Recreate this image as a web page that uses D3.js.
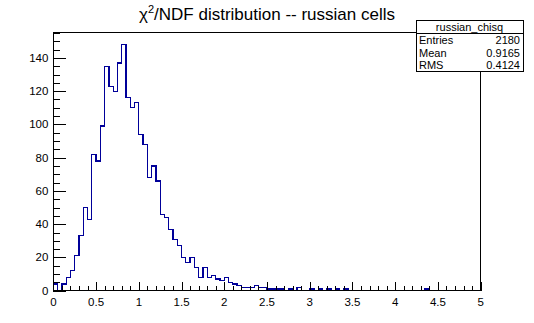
<!DOCTYPE html>
<html>
<head>
<meta charset="utf-8">
<script src="https://cdn.jsdelivr.net/npm/d3@7"></script>
<style>
  html, body { margin: 0; padding: 0; background: #fff; }
  svg { display: block; }
  text { font-family: "Liberation Sans", Arial, Helvetica, sans-serif; }
</style>
</head>
<body>
<div id="chart"></div>
<script>
// ---- data ----
const xMin = 0, xMax = 5, binWidth = 0.05;
const counts = [
  4, 0, 4, 8, 12, 21, 33, 50, 43, 82,
  78, 99, 135, 123, 120, 137, 148, 116, 110, 113,
  94, 88, 68, 75, 66, 46, 44, 37, 31, 27,
  20, 17, 20, 14, 8, 14, 8, 9, 7, 6,
  8, 5, 4, 3, 2, 2, 2, 3, 2, 2,
  1, 1, 1, 1, 0, 1, 0, 2, 0, 0,
  1, 0, 1, 0, 1, 0, 1, 0, 1, 0,
  0, 0, 0, 0, 0, 0, 0, 0, 0, 0,
  0, 0, 0, 0, 0, 0, 0, 1, 0, 0,
  0, 0, 0, 0, 0, 0, 0, 0, 0, 0
];
const xTickValues = [0, 0.5, 1, 1.5, 2, 2.5, 3, 3.5, 4, 4.5, 5];
const xTickLabels = ["0", "0.5", "1", "1.5", "2", "2.5", "3", "3.5", "4", "4.5", "5"];
const yTickValues = [0, 20, 40, 60, 80, 100, 120, 140];
const statsTitle = "russian_chisq";
const statsNames = ["Entries", "Mean", "RMS"];
const statsValues = ["2180", "0.9165", "0.4124"];

// ---- layout ----
const W = 534, H = 323;
const frame = { left: 53.4, right: 480.6, top: 32.3, bottom: 290.7 };
const yMax = d3.max(counts) * 1.05;

const svg = d3.select("#chart").append("svg")
  .attr("width", W).attr("height", H);

const x = d3.scaleLinear().domain([xMin, xMax]).range([frame.left, frame.right]);
const y = d3.scaleLinear().domain([0, yMax]).range([frame.bottom, frame.top]);

// histogram outline
const pts = [[xMin, 0]];
counts.forEach((c, i) => {
  const lo = xMin + i * binWidth, hi = lo + binWidth;
  pts.push([lo, c]); pts.push([hi, c]);
});
pts.push([xMax, 0]);
const line = d3.line().x(d => x(d[0])).y(d => y(d[1]));
svg.append("path")
  .attr("d", line(pts))
  .attr("fill", "none")
  .attr("stroke", "#000099")
  .attr("stroke-width", 1.3)
  .attr("shape-rendering", "crispEdges");

// frame
svg.append("rect")
  .attr("x", frame.left).attr("y", frame.top)
  .attr("width", frame.right - frame.left).attr("height", frame.bottom - frame.top)
  .attr("fill", "none").attr("stroke", "#000").attr("stroke-width", 1)
  .attr("shape-rendering", "crispEdges");

// x axis (ticks inside, pointing up)
const xMinor = d3.range(0, 51).map(i => i * 0.1);
const xAxisG = svg.append("g").attr("transform", `translate(0,${frame.bottom})`);
xAxisG.call(d3.axisTop(x).tickValues(xMinor).tickSize(4.5).tickFormat(""));
xAxisG.append("g").call(d3.axisTop(x).tickValues(xTickValues).tickSize(9).tickFormat(""));
xAxisG.selectAll(".domain").remove();
xAxisG.selectAll("line").attr("stroke", "#000").attr("shape-rendering", "crispEdges");
xAxisG.selectAll(".xl").data(xTickValues).enter().append("text")
  .attr("class", "xl")
  .attr("x", d => x(d)).attr("y", 15)
  .attr("text-anchor", "middle")
  .attr("fill", "#000")
  .attr("font-size", 11.5)
  .text((d, i) => xTickLabels[i]);

// y axis (ticks inside, pointing right)
const yMinor = d3.range(0, 156, 5);
const yAxisG = svg.append("g").attr("transform", `translate(${frame.left},0)`);
yAxisG.call(d3.axisRight(y).tickValues(yMinor).tickSize(6.5).tickFormat(""));
yAxisG.append("g").call(d3.axisRight(y).tickValues(yTickValues).tickSize(13).tickFormat(""));
yAxisG.selectAll(".domain").remove();
yAxisG.selectAll("line").attr("stroke", "#000").attr("shape-rendering", "crispEdges");
yAxisG.selectAll(".yl").data(yTickValues).enter().append("text")
  .attr("class", "yl")
  .attr("x", -5).attr("y", d => y(d) + 4)
  .attr("text-anchor", "end")
  .attr("fill", "#000")
  .attr("font-size", 11.5)
  .text(d => d);

// title
const title = svg.append("text")
  .attr("x", W / 2).attr("y", 20)
  .attr("text-anchor", "middle")
  .attr("fill", "#000")
  .attr("font-size", 17);
title.append("tspan").text("χ");
title.append("tspan").attr("font-size", 11).attr("dy", -7).text("2");
title.append("tspan").attr("dy", 7).text("/NDF distribution -- russian cells");

// stats box
const sb = { x: 416, y: 20.7, w: 107, h: 51 };
const rowH = sb.h / 4;
const sg = svg.append("g");
sg.append("rect")
  .attr("x", sb.x).attr("y", sb.y).attr("width", sb.w).attr("height", sb.h)
  .attr("fill", "#fff").attr("stroke", "#000").attr("shape-rendering", "crispEdges");
sg.append("line")
  .attr("x1", sb.x).attr("x2", sb.x + sb.w)
  .attr("y1", sb.y + rowH).attr("y2", sb.y + rowH)
  .attr("stroke", "#000").attr("shape-rendering", "crispEdges");
sg.append("text")
  .attr("x", sb.x + sb.w / 2).attr("y", sb.y + rowH / 2 + 4)
  .attr("text-anchor", "middle").attr("font-size", 11).attr("fill", "#000")
  .text(statsTitle);
statsNames.forEach((n, i) => {
  const cy = sb.y + rowH * (i + 1.5) + 4;
  sg.append("text").attr("x", sb.x + 3).attr("y", cy)
    .attr("font-size", 11).attr("fill", "#000").text(n);
  sg.append("text").attr("x", sb.x + sb.w - 3).attr("y", cy)
    .attr("text-anchor", "end").attr("font-size", 11).attr("fill", "#000").text(statsValues[i]);
});
</script>
</body>
</html>
